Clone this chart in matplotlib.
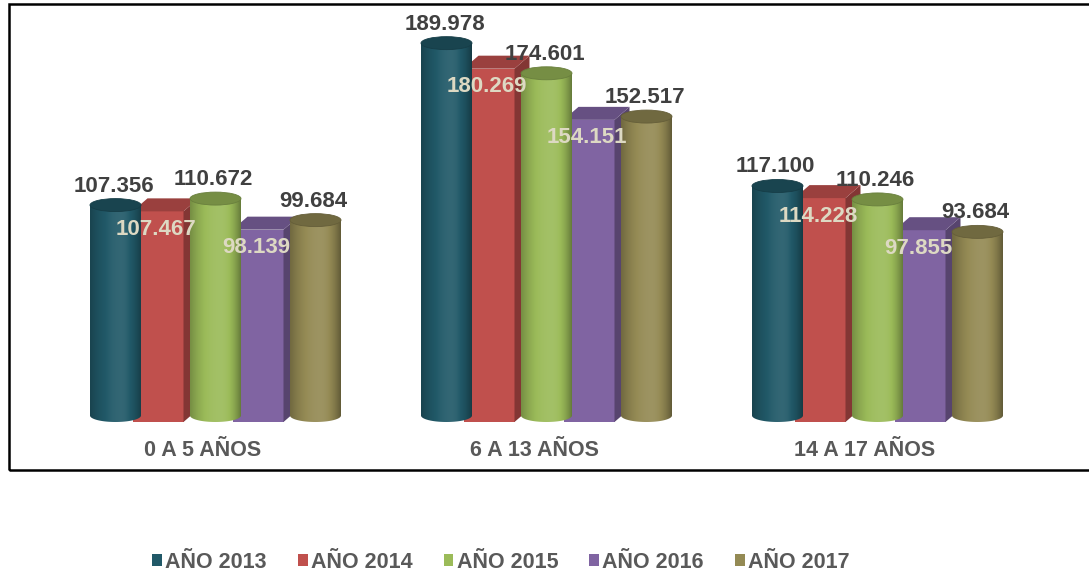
import numpy as np
import matplotlib.pyplot as plt
from matplotlib.patches import Rectangle, Polygon, Ellipse, PathPatch, Patch
from matplotlib.path import Path
from matplotlib.colors import to_rgb

categorias = ['0 A 5 AÑOS', '6 A 13 AÑOS', '14 A 17 AÑOS']
anios = ['AÑO 2013', 'AÑO 2014', 'AÑO 2015', 'AÑO 2016', 'AÑO 2017']
v2013 = [107356, 189978, 117100]
v2014 = [107467, 180269, 114228]
v2015 = [110672, 174601, 110246]
v2016 = [98139, 154151, 97855]
v2017 = [99684, 152517, 93684]
series = [v2013, v2014, v2015, v2016, v2017]
colores = ['#215968', '#c0504d', '#9bbb59', '#8064a2', '#948a54']
formas = ['cil', 'caja', 'cil', 'caja', 'cil']

W, H = 1089, 574
fig = plt.figure(figsize=(W / 100, H / 100), dpi=100)
ax = fig.add_axes([0, 0, 1, 1])
ax.set_axis_off()

# escala: px por grupo y px por unidad
px_x = 331.0
px_y = 1.96 / 1000
x0_px, y0_px = 208, 422
xlim = (-x0_px / px_x, (W - x0_px) / px_x)
ylim = ((y0_px - H) / px_y, y0_px / px_y)

paso = 50 / px_x
ancho = 51 / px_x
prof_x = 15 / px_x
prof_y = 13 / px_y
ry = 6.5 / px_y


def sombra(c, f):
    c = np.array(to_rgb(c))
    if f >= 1:
        return np.clip(c + (1 - c) * (f - 1), 0, 1)
    return c * f


def fmt(v):
    return f'{v:,}'.replace(',', '.')


t = np.linspace(0, 1, 80)
perfil = np.where(t < 0.6, 1.08 - 0.32 * ((t - 0.6) / 0.6) ** 2,
                  1.08 - 0.42 * ((t - 0.6) / 0.4) ** 2)


def cilindro(cx, v, color):
    r = ancho / 2
    base = prof_y / 2
    top = v + base
    th = np.linspace(np.pi, 2 * np.pi, 60)
    pts = np.column_stack([cx + r * np.cos(th), base + ry * np.sin(th)])
    pts = np.vstack([pts, [[cx + r, top], [cx - r, top]], pts[:1]])
    cuerpo = PathPatch(Path(pts), transform=ax.transData, fc='none', ec='none')
    img = np.array([[sombra(color, f) for f in perfil]])
    im = ax.imshow(img, extent=[cx - r, cx + r, base - ry, top], aspect='auto',
                   interpolation='bilinear', zorder=3)
    im.set_clip_path(cuerpo)
    ax.add_patch(Ellipse((cx, top), 2 * r, 2 * ry, fc=sombra(color, 0.76),
                         ec=sombra(color, 0.68), lw=0.6, zorder=3.1))
    ax.text(cx - 2 / px_x, top + 19 / px_y, fmt(v), ha='center', va='center', fontsize=16,
            fontweight='bold', color='#404040', family='Liberation Sans', zorder=6)


def caja(c, v, color):
    x0, x1 = c - ancho / 2, c + ancho / 2
    ax.add_patch(Rectangle((x0, 0), ancho, v, fc=color, ec='none', zorder=2))
    ax.add_patch(Polygon([(x1, 0), (x1 + prof_x, prof_y), (x1 + prof_x, v + prof_y), (x1, v)],
                         fc=sombra(color, 0.68), ec='none', zorder=2))
    ax.add_patch(Polygon([(x0, v), (x1, v), (x1 + prof_x, v + prof_y), (x0 + prof_x, v + prof_y)],
                         fc=sombra(color, 0.8), ec='none', zorder=2))
    ax.text(c - 2 / px_x, v - 18 / px_y, fmt(v), ha='center', va='center', fontsize=16,
            fontweight='bold', color='#ddd9c3', family='Liberation Sans', zorder=6)


for i, (vals, col, forma) in enumerate(zip(series, colores, formas)):
    for g, v in enumerate(vals):
        c = g + (i - 2) * paso
        if forma == 'cil':
            cilindro(c + prof_x / 2, v, col)
        else:
            caja(c, v, col)

for g, cat in enumerate(categorias):
    ax.text(g - 5 / px_x, -28 / px_y, cat, ha='center', va='center', fontsize=15.5,
            fontweight='bold', color='#595959', family='Liberation Sans')

ax.set_xlim(xlim)
ax.set_ylim(ylim)

# marco
fig.patches.append(Rectangle((9 / W, 1 - 470 / H), 1.2, 466 / H, transform=fig.transFigure,
                             fill=False, ec='black', lw=1.8))

handles = [Patch(fc=c, ec='none') for c in colores]
fig.legend(handles, anios, loc='center', bbox_to_anchor=(501 / W, 1 - 562 / H), ncol=5,
           frameon=False, handlelength=0.45, handleheight=0.45, handletextpad=0.15,
           columnspacing=1.45, prop={'family': 'Liberation Sans', 'weight': 'bold', 'size': 15.5},
           labelcolor='#595959')

fig.savefig('out.png', dpi=100)
